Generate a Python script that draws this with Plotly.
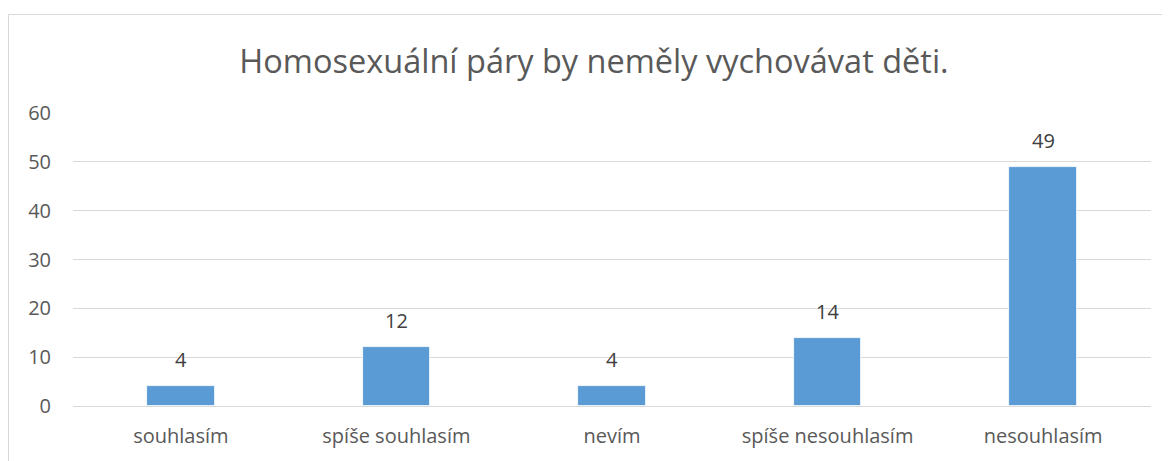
import plotly.graph_objects as go

categories = ["souhlasím", "spíše souhlasím", "nevím", "spíše nesouhlasím", "nesouhlasím"]
values = [4, 12, 4, 14, 49]
title_text = "Homosexuální páry by neměly vychovávat děti."
y_ticks = [0, 10, 20, 30, 40, 50, 60]

FONT = "Open Sans"
GREY = "#595959"

# page body has 8px margin; compensate
OFF = 8
L, R_EDGE, TOP, BOT = 73 - OFF, 1151 - OFF, 113 - OFF, 406 - OFF
W, H = 1170, 461
pw, ph = R_EDGE - L, BOT - TOP

fig = go.Figure()
fig.add_trace(go.Bar(
    x=categories, y=values,
    marker=dict(color="#5B9BD5", line=dict(color="#ffffff", width=0.8)),
    width=0.314,
    hoverinfo="x+y",
))

for c, v in zip(categories, values):
    fig.add_annotation(x=c, y=v, text=str(v), showarrow=False, yanchor="bottom",
                       yshift=11, font=dict(family=FONT, size=20, color="#404040"))

fig.update_layout(
    width=W, height=H,
    margin=dict(l=L, r=W - R_EDGE, t=TOP, b=H - BOT, pad=0),
    paper_bgcolor="white", plot_bgcolor="white",
    showlegend=False,
    bargap=0,
    title=dict(text=title_text, x=(594 - OFF) / W, xanchor="center", y=1 - (62 - OFF) / H, yanchor="middle",
               font=dict(family=FONT, size=32.5, color=GREY)),
    xaxis=dict(showgrid=False, showline=False, ticks="", zeroline=False,
               tickfont=dict(family=FONT, size=20, color=GREY), ticklabelstandoff=16),
    yaxis=dict(range=[0, 60], tickvals=y_ticks, showgrid=True, gridcolor="#D9D9D9", gridwidth=1,
               zeroline=True, zerolinecolor="#D9D9D9", zerolinewidth=1, showline=False, ticks="",
               tickfont=dict(family=FONT, size=20, color=GREY), ticklabelstandoff=21),
    shapes=[dict(type="rect", xref="paper", yref="paper",
                 x0=(8.5 - OFF - L) / pw, x1=1.2, y0=-0.4, y1=(BOT - (14.5 - OFF)) / ph,
                 line=dict(color="#D9D9D9", width=1), fillcolor="rgba(0,0,0,0)", layer="below")],
)

fig.write_html("out.html")
